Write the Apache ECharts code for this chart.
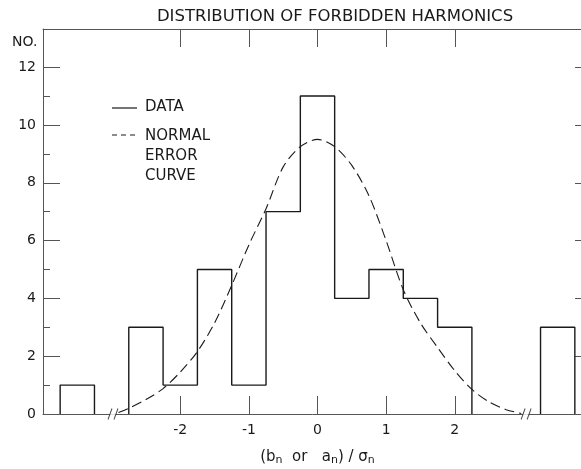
<!DOCTYPE html>
<html>
<head>
<meta charset="utf-8">
<script src="https://cdn.jsdelivr.net/npm/echarts@6/dist/echarts.min.js"></script>
<style>
  html, body { margin: 0; padding: 0; background: #fff; }
  #chart { width: 581px; height: 469px; }
</style>
</head>
<body>
<div id="chart"></div>
<script>
/* 直方图数据：主区间 */
const binStarts = [-2.75, -2.25, -1.75, -1.25, -0.75, -0.25, 0.25, 0.75, 1.25, 1.75];
const binCounts = [3, 1, 5, 1, 7, 11, 4, 5, 4, 3];
const binWidth = 0.5;

/* 断轴外的两个孤立区间 */
const outlierStarts = [-3.75, 3.25];
const outlierCounts = [1, 3];

/* 正态误差曲线 */
const curveX = [-2.9, -2.75, -2.5, -2.25, -2.0, -1.75, -1.5, -1.25, -1.0, -0.75, -0.5, -0.25, 0,
  0.25, 0.5, 0.75, 1.0, 1.25, 1.5, 1.75, 2.0, 2.25, 2.5, 2.75, 2.97];
const curveY = [0.05, 0.2, 0.5, 0.88, 1.45, 2.16, 3.15, 4.45, 5.85, 7.1, 8.55, 9.25, 9.5,
  9.25, 8.6, 7.55, 6.0, 4.3, 3.15, 2.3, 1.5, 0.85, 0.42, 0.15, 0.02];

/* 刻度 */
const xTicks = [-2, -1, 0, 1, 2];
const yMajorTicks = [0, 2, 4, 6, 8, 10, 12];
const yMinorTicks = [1, 3, 5, 7, 9, 11];
const yRightTicks = [2, 4, 6, 8, 10, 12];
const breakMarksX = [-2.98, 3.04];

const ink = '#1a1a1a';
const frame = '#555';
const font = 'DejaVu Sans';

/* 阶梯轮廓 */
function stepOutline(starts, counts) {
  const pts = [[starts[0], 0]];
  starts.forEach((s, i) => pts.push([s, counts[i]]));
  pts.push([starts[starts.length - 1] + binWidth, 0]);
  return pts;
}

const myChart = echarts.init(document.getElementById('chart'));

const baseX = {
  type: 'value', min: -4, max: 4,
  splitLine: { show: false },
  axisLine: { show: true, onZero: false, lineStyle: { color: frame, width: 1 } },
  axisTick: { show: true, inside: true, length: 18, customValues: xTicks, lineStyle: { color: frame } }
};

const baseY = {
  type: 'value', min: 0, max: 13.32,
  splitLine: { show: false }
};

const option = {
  animation: false,
  title: {
    text: 'DISTRIBUTION OF FORBIDDEN HARMONICS',
    left: 330, top: 3, textAlign: 'center',
    textStyle: { fontFamily: font, fontSize: 16.5, fontWeight: 'normal', color: ink }
  },
  grid: { left: 43, width: 549, top: 29, height: 385, outerBoundsMode: 'none' },
  xAxis: [
    Object.assign({}, baseX, {
      position: 'bottom',
      axisLabel: { customValues: xTicks, margin: 9, fontFamily: font, fontSize: 14, color: ink,
        formatter: v => String(v) },
      name: '(b{s|n}  or   a{s|n}) / σ{s|n}',
      nameLocation: 'middle', nameGap: 34,
      nameTextStyle: { fontFamily: font, fontSize: 15, color: ink,
        rich: { s: { fontFamily: font, fontSize: 11, color: ink, verticalAlign: 'bottom', padding: [7, 0, 0, 0] } } }
    }),
    Object.assign({}, baseX, { position: 'top', axisLabel: { show: false } })
  ],
  yAxis: [
    Object.assign({}, baseY, {
      position: 'left',
      axisLine: { show: true, onZero: false, lineStyle: { color: frame } },
      axisTick: { show: true, inside: true, length: 17, customValues: yMajorTicks, lineStyle: { color: frame } },
      axisLabel: { customValues: yMajorTicks, margin: 7, fontFamily: font, fontSize: 14, color: ink }
    }),
    Object.assign({}, baseY, {
      position: 'left',
      axisLine: { show: false, onZero: false },
      axisTick: { show: true, inside: true, length: 7, customValues: yMinorTicks, lineStyle: { color: frame } },
      axisLabel: { show: false }
    }),
    Object.assign({}, baseY, {
      position: 'right',
      axisLine: { show: true, onZero: false, lineStyle: { color: frame } },
      axisTick: { show: true, inside: true, length: 17, customValues: yRightTicks, lineStyle: { color: frame } },
      axisLabel: { show: false }
    })
  ],
  graphic: [
    { type: 'text', left: 12, top: 35, style: { text: 'NO.', fontFamily: font, fontSize: 14, fill: ink } },
    { type: 'line', shape: { x1: 112, y1: 108, x2: 137, y2: 108 }, style: { stroke: ink, lineWidth: 1.2 } },
    { type: 'text', left: 145, top: 100, style: { text: 'DATA', fontFamily: font, fontSize: 15, fill: ink } },
    { type: 'line', shape: { x1: 112, y1: 135, x2: 137, y2: 135 }, style: { stroke: ink, lineWidth: 1.2, lineDash: [5, 4] } },
    { type: 'text', left: 145, top: 126, style: { text: 'NORMAL\nERROR\nCURVE', fontFamily: font, fontSize: 15, lineHeight: 20, fill: ink } }
  ],
  series: [
    {
      name: 'DATA', type: 'line', step: 'end', symbol: 'none',
      data: stepOutline(binStarts, binCounts),
      lineStyle: { color: ink, width: 1.4 }
    },
    {
      name: 'DATA-L', type: 'line', step: 'end', symbol: 'none',
      data: stepOutline([outlierStarts[0]], [outlierCounts[0]]),
      lineStyle: { color: ink, width: 1.4 }
    },
    {
      name: 'DATA-R', type: 'line', step: 'end', symbol: 'none',
      data: stepOutline([outlierStarts[1]], [outlierCounts[1]]),
      lineStyle: { color: ink, width: 1.4 }
    },
    {
      name: 'NORMAL ERROR CURVE', type: 'line', smooth: 0.3, symbol: 'none',
      data: curveX.map((x, i) => [x, curveY[i]]),
      lineStyle: { color: ink, width: 1.1, type: [10, 5] }
    },
    {
      /* 断轴处的空隙 */
      name: 'break-gap', type: 'scatter', silent: true, z: 3,
      symbol: 'path://M0 10 L4 0 L10 0 L6 10 Z', symbolSize: [10, 6],
      data: breakMarksX.map(x => [x, 0]),
      itemStyle: { color: '#fff', borderWidth: 0 }
    },
    {
      name: 'break', type: 'scatter', silent: true, z: 4,
      symbol: 'path://M0 10 L4 0 M6 10 L10 0', symbolSize: [10, 11],
      data: breakMarksX.map(x => [x, 0]),
      itemStyle: { color: 'none', borderColor: ink, borderWidth: 1 }
    }
  ]
};

option && myChart.setOption(option);
</script>
</body>
</html>
